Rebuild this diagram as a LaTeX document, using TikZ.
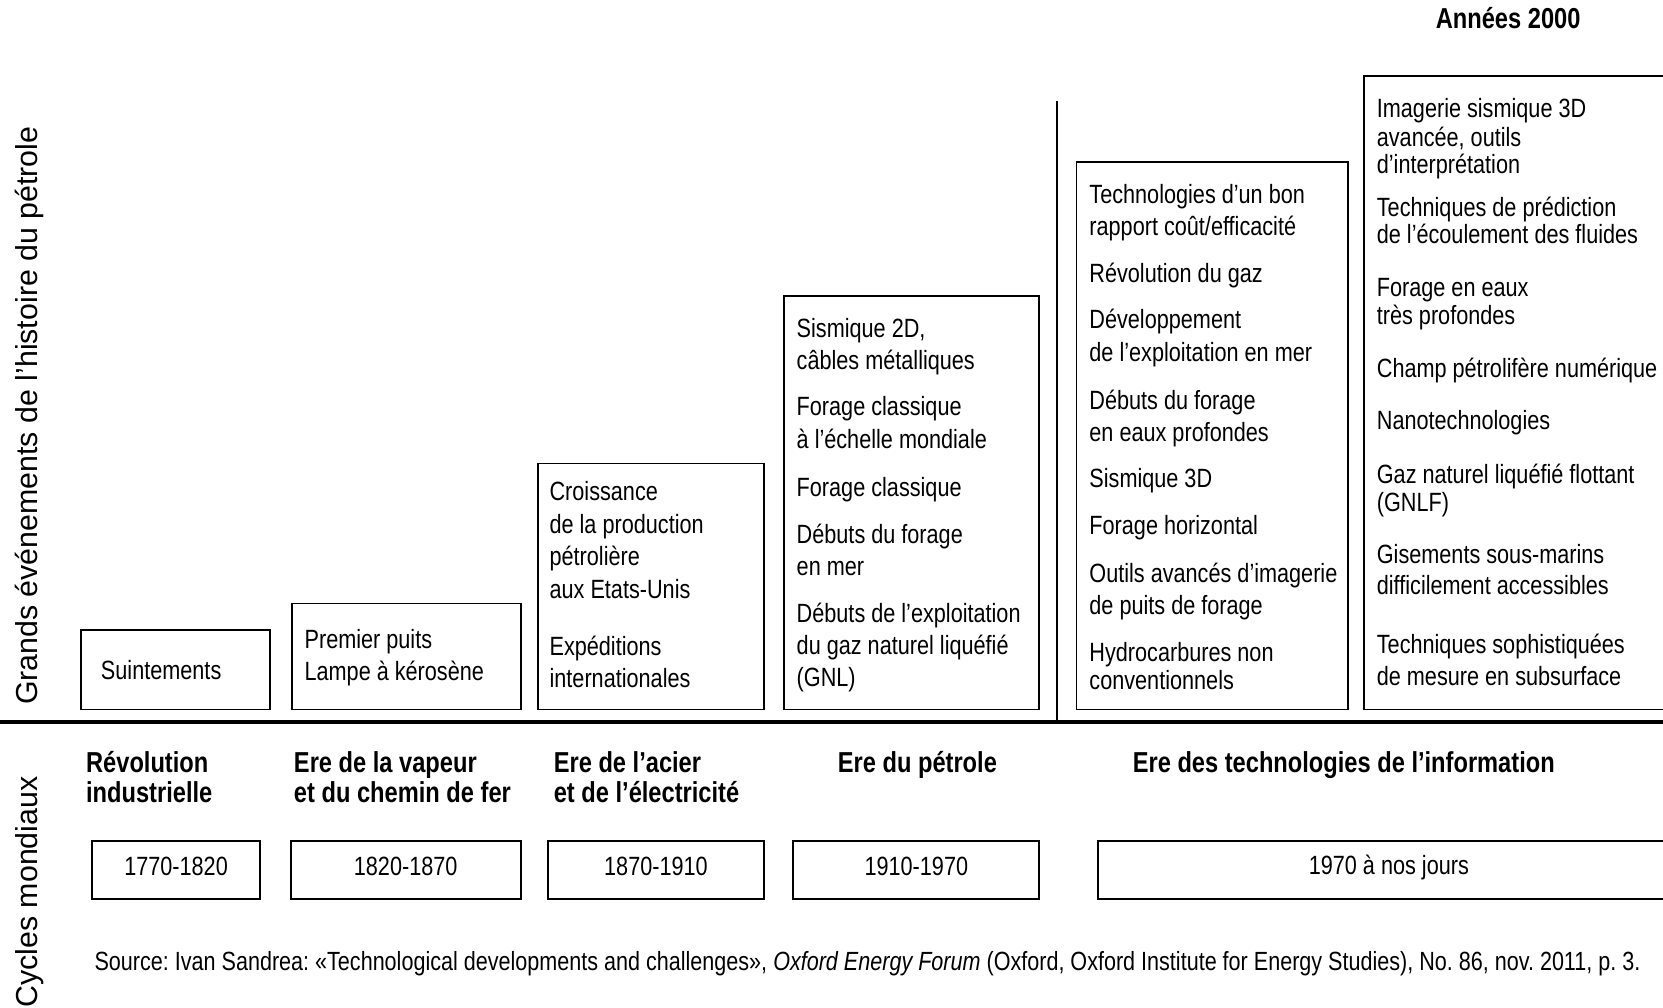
\documentclass[tikz,border=0pt]{standalone}
\usepackage{fontspec}
\setmainfont{Liberation Sans}
\newfontfamily\nar[FakeStretch=0.82]{Liberation Sans}
\frenchspacing
\begin{document}
\begin{tikzpicture}[x=1pt,y=-1pt,
  boxst/.style={draw, line width=1.8pt, inner sep=0pt, anchor=center},
  txt/.style={anchor=base west, inner sep=0pt, font=\nar\fontsize{24.9}{30}\selectfont},
  datetxt/.style={inner sep=0pt, font=\nar\fontsize{24.9}{30}\selectfont},
  head/.style={anchor=base west, inner sep=0pt, font=\nar\bfseries\fontsize{27.2}{30}\selectfont},
  side/.style={rotate=90, inner sep=0pt, font=\fontsize{28.6}{34}\selectfont}]
\useasboundingbox (0,0) rectangle (1568,950);
\fill[white] (0,0) rectangle (1568,950);

% side labels
\node[side] (lgrands) at (28,392) {Grands événements de l’histoire du pétrole};
\node[side] (lcycles) at (28,841) {Cycles mondiaux};

% title
\node[head, anchor=base] (annees) at (1422,27) {Années 2000};

% separators
\coordinate (hl0) at (0,681);
\coordinate (hl1) at (1568,681);
\coordinate (vtop) at (997,95);
\draw[line width=4pt] (hl0) -- (hl1);
\draw[line width=1.8pt] (vtop) -- (vtop |- hl0);

% top boxes
\node[boxst, minimum width=179pt, minimum height=75pt] (b1) at (165.5,631.5) {};
\node[boxst, minimum width=216pt, minimum height=100pt] (b2) at (383,619) {};
\node[boxst, minimum width=213pt, minimum height=232pt] (b3) at (613.5,553) {};
\node[boxst, minimum width=241pt, minimum height=390pt] (b4) at (859.5,474) {};
\node[boxst, minimum width=256pt, minimum height=516pt] (b5) at (1143,411) {};
\node[boxst, minimum width=314pt, minimum height=597pt] (b6) at (1443,370.5) {};

% box texts
\node[txt] (b1t1) at (95,641) {Suintements};
\foreach \yy/\tx [count=\i] in {602/{Premier puits},633/{Lampe à kérosène}}
  \node[txt] (b2t\i) at (287,\yy+9) {\tx};
\foreach \yy/\tx [count=\i] in {463/{Croissance},494/{de la production},524/{pétrolière},555/{aux Etats-Unis},609/{Expéditions},639/{internationales}}
  \node[txt] (b3t\i) at (518,\yy+9) {\tx};
\foreach \yy/\tx [count=\i] in {309/{Sismique 2D,},339/{câbles métalliques},383/{Forage classique},414/{à l’échelle mondiale},459/{Forage classique},503/{Débuts du forage},534/{en mer},578/{Débuts de l’exploitation},608/{du gaz naturel liquéfié},638/{(GNL)}}
  \node[txt] (b4t\i) at (751,\yy+9) {\tx};
\foreach \yy/\tx [count=\i] in {183/{Technologies d’un bon},213/{rapport coût/efficacité},257/{Révolution du gaz},301/{Développement},332/{de l’exploitation en mer},377/{Débuts du forage},407/{en eaux profondes},451/{Sismique 3D},495/{Forage horizontal},540/{Outils avancés d’imagerie},570/{de puits de forage},615/{Hydrocarbures non},641/{conventionnels}}
  \node[txt] (b5t\i) at (1027,\yy+9) {\tx};
\foreach \yy/\tx [count=\i] in {102/{Imagerie sismique 3D},129/{avancée, outils},155/{d’interprétation},195/{Techniques de prédiction},221/{de l’écoulement des fluides},271/{Forage en eaux},297/{très profondes},347/{Champ pétrolifère numérique},396/{Nanotechnologies},447/{Gaz naturel liquéfié flottant},473/{(GNLF)},522/{Gisements sous-marins},552/{difficilement accessibles},607/{Techniques sophistiquées},637/{de mesure en subsurface}}
  \node[txt] (b6t\i) at (1298,\yy+9) {\tx};

% cycle headings
\node[head] (h1a) at (81,728) {Révolution};
\node[head] (h1b) at (81,757) {industrielle};
\node[head] (h2a) at (277,728) {Ere de la vapeur};
\node[head] (h2b) at (277,757) {et du chemin de fer};
\node[head] (h3a) at (522,728) {Ere de l’acier};
\node[head] (h3b) at (522,757) {et de l’électricité};
\node[head, anchor=base] (h4) at (865,728) {Ere du pétrole};
\node[head, anchor=base] (h5) at (1267,728) {Ere des technologies de l’information};

% date boxes
\node[boxst, minimum width=158pt, minimum height=55pt] (d1) at (166,820.5) {};
\node[boxst, minimum width=217pt, minimum height=55pt] (d2) at (382.5,820.5) {};
\node[boxst, minimum width=203pt, minimum height=55pt] (d3) at (618.5,820.5) {};
\node[boxst, minimum width=232pt, minimum height=55pt] (d4) at (864,820.5) {};
\node[boxst, minimum width=549pt, minimum height=55pt] (d5) at (1309.5,820.5) {};
\node[datetxt] (d1t) at (166,817) {1770-1820};
\node[datetxt] (d2t) at (382.5,817) {1820-1870};
\node[datetxt] (d3t) at (618.5,817) {1870-1910};
\node[datetxt] (d4t) at (864,817) {1910-1970};
\node[datetxt, anchor=base] (d5t) at (1309.5,825) {1970 à nos jours};

% source
\node[txt, font=\nar\fontsize{24.8}{28}\selectfont] (src) at (89,915) {Source: Ivan Sandrea: «Technological developments and challenges», {\itshape Oxford Energy Forum} (Oxford, Oxford Institute for Energy Studies), No. 86, nov. 2011, p. 3.};
\end{tikzpicture}
\end{document}
